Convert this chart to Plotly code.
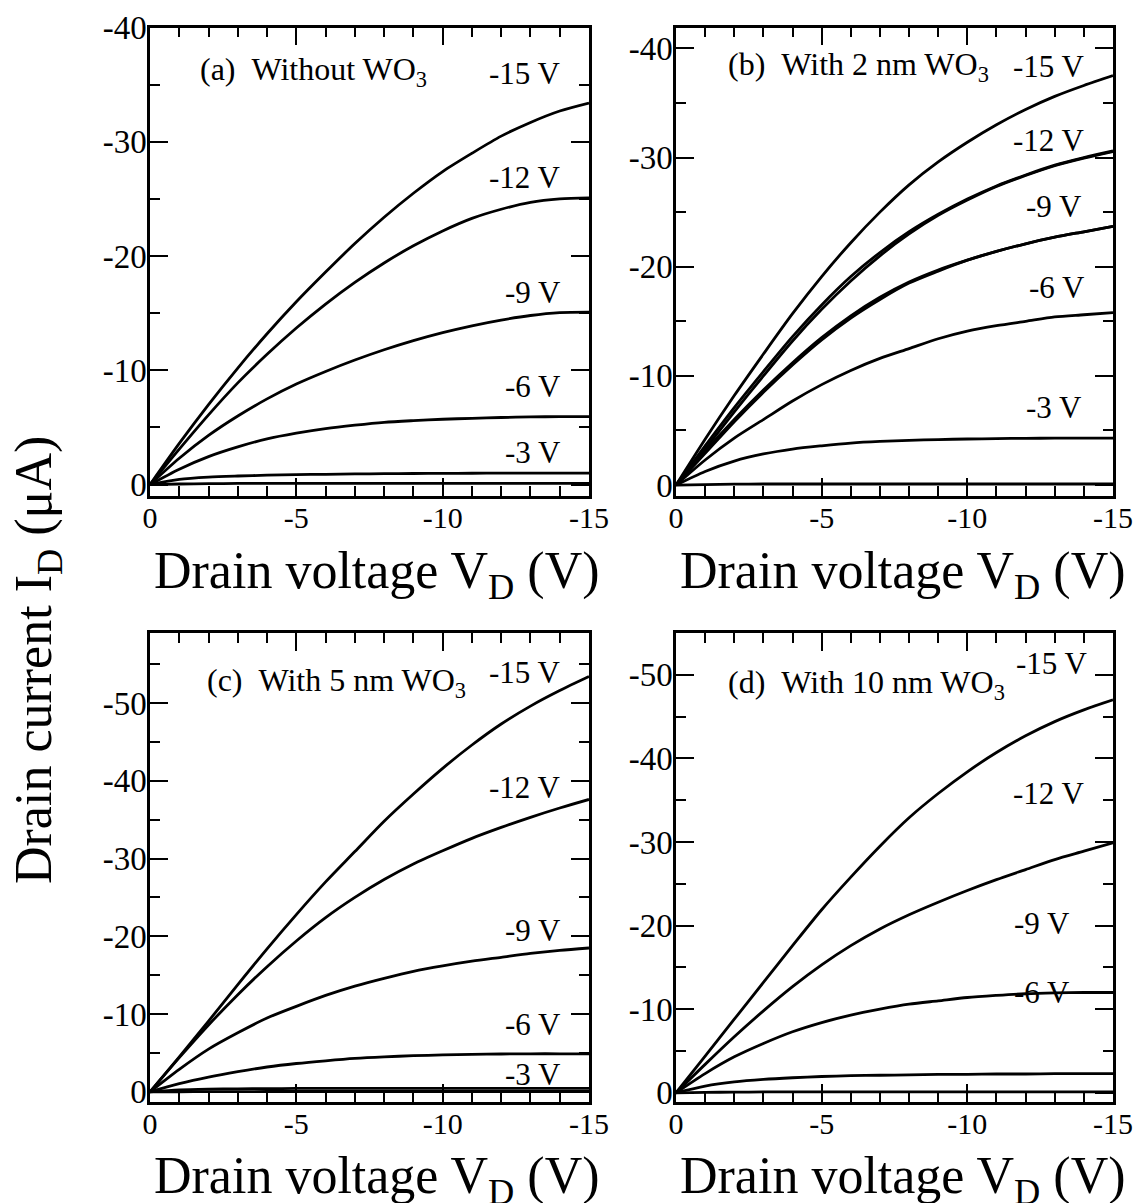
import plotly.graph_objects as go

# ---------------- data (drain current in uA) ----------------
vd = [0, -1, -2, -3, -4, -5, -6, -7, -8, -9, -10, -11, -12, -13, -14, -15]

# (a) without WO3
a_15 = [0, -3.6, -7.0, -10.2, -13.2, -16.0, -18.6, -21.1, -23.4, -25.5, -27.4, -29.0, -30.5, -31.7, -32.7, -33.4]
a_12 = [0, -3.1, -6.1, -8.9, -11.4, -13.7, -15.8, -17.7, -19.4, -20.9, -22.2, -23.3, -24.1, -24.7, -25.0, -25.1]
a_9 = [0, -2.3, -4.3, -6.0, -7.5, -8.8, -9.9, -10.9, -11.8, -12.6, -13.3, -13.9, -14.4, -14.8, -15.05, -15.1]
a_6 = [0, -1.35, -2.45, -3.3, -4.0, -4.5, -4.9, -5.2, -5.45, -5.6, -5.72, -5.8, -5.87, -5.92, -5.95, -5.95]
a_3 = [0, -0.45, -0.65, -0.75, -0.82, -0.87, -0.9, -0.93, -0.95, -0.97, -0.98, -0.99, -1.0, -1.0, -1.0, -1.0]
a_0 = [0, -0.05, -0.08, -0.1, -0.1, -0.1, -0.1, -0.1, -0.1, -0.1, -0.1, -0.1, -0.1, -0.1, -0.1, -0.1]

# (b) with 2 nm WO3 (the -12 V and -9 V curves show a small hysteresis)
b_15 = [0, -4.2, -8.2, -12.0, -15.7, -19.1, -22.2, -25.0, -27.5, -29.6, -31.4, -33.0, -34.4, -35.6, -36.6, -37.5]
b_12 = [0, -3.6, -7.1, -10.4, -13.6, -16.5, -19.1, -21.3, -23.2, -24.8, -26.2, -27.4, -28.4, -29.3, -30.0, -30.6]
b_12r = [0, -3.3, -6.7, -10.0, -13.2, -16.1, -18.7, -21.0, -23.0, -24.7, -26.1, -27.35, -28.35, -29.25, -29.95, -30.55]
b_9 = [0, -3.1, -6.0, -8.7, -11.2, -13.5, -15.5, -17.2, -18.6, -19.7, -20.6, -21.4, -22.1, -22.7, -23.2, -23.7]
b_9r = [0, -2.9, -5.8, -8.5, -11.0, -13.3, -15.3, -17.0, -18.5, -19.6, -20.6, -21.4, -22.1, -22.7, -23.2, -23.7]
b_6 = [0, -2.3, -4.3, -6.0, -7.7, -9.2, -10.5, -11.6, -12.5, -13.4, -14.1, -14.6, -15.0, -15.4, -15.6, -15.8]
b_3 = [0, -1.25, -2.2, -2.85, -3.3, -3.6, -3.85, -4.0, -4.1, -4.17, -4.22, -4.26, -4.28, -4.3, -4.3, -4.3]
b_0 = [0, -0.05, -0.08, -0.1, -0.1, -0.1, -0.1, -0.1, -0.1, -0.1, -0.1, -0.1, -0.1, -0.1, -0.1, -0.1]

# (c) with 5 nm WO3
c_15 = [0, -4.5, -9.1, -13.8, -18.4, -22.8, -27.0, -30.9, -34.8, -38.3, -41.6, -44.6, -47.3, -49.6, -51.6, -53.4]
c_12 = [0, -4.4, -8.6, -12.5, -16.1, -19.4, -22.4, -25.0, -27.3, -29.3, -31.0, -32.6, -34.0, -35.3, -36.5, -37.6]
c_9 = [0, -2.9, -5.5, -7.6, -9.5, -11.0, -12.4, -13.6, -14.6, -15.5, -16.2, -16.8, -17.3, -17.8, -18.2, -18.5]
c_6 = [0, -1.05, -1.9, -2.6, -3.2, -3.65, -4.0, -4.3, -4.5, -4.65, -4.75, -4.82, -4.87, -4.9, -4.9, -4.9]
c_3 = [0, -0.25, -0.35, -0.4, -0.42, -0.44, -0.45, -0.45, -0.45, -0.45, -0.45, -0.45, -0.45, -0.45, -0.45, -0.45]
c_0 = [0, -0.02, -0.03, -0.04, -0.05, -0.05, -0.05, -0.05, -0.05, -0.05, -0.05, -0.05, -0.05, -0.05, -0.05, -0.05]

# (d) with 10 nm WO3
d_15 = [0, -4.4, -8.8, -13.2, -17.6, -21.9, -25.8, -29.5, -32.9, -35.8, -38.4, -40.7, -42.7, -44.4, -45.8, -47.0]
d_12 = [0, -3.4, -6.7, -9.8, -12.7, -15.3, -17.6, -19.6, -21.3, -22.8, -24.2, -25.5, -26.7, -27.9, -28.9, -29.9]
d_9 = [0, -2.3, -4.3, -5.9, -7.3, -8.4, -9.3, -10.0, -10.6, -11.0, -11.4, -11.65, -11.85, -11.95, -12.0, -12.0]
d_6 = [0, -0.8, -1.3, -1.6, -1.8, -1.95, -2.05, -2.1, -2.15, -2.2, -2.2, -2.25, -2.25, -2.3, -2.3, -2.3]
d_3 = [0, -0.05, -0.08, -0.1, -0.1, -0.1, -0.1, -0.1, -0.1, -0.1, -0.1, -0.1, -0.1, -0.1, -0.1, -0.1]

# tick labels
x_tickvals = [0, -5, -10, -15]
x_ticktext = ["0", "-5", "-10", "-15"]
y_tickvals_ab = [0, -10, -20, -30, -40]
y_ticktext_ab = ["0", "-10", "-20", "-30", "-40"]
y_tickvals_cd = [0, -10, -20, -30, -40, -50]
y_ticktext_cd = ["0", "-10", "-20", "-30", "-40", "-50"]

panel_titles = ["(a)\u00a0\u00a0Without WO<sub>3</sub>",
                "(b)\u00a0\u00a0With 2 nm WO<sub>3</sub>",
                "(c)\u00a0\u00a0With 5 nm WO<sub>3</sub>",
                "(d)\u00a0\u00a0With 10 nm WO<sub>3</sub>"]
gate_labels = ["-15 V", "-12 V", "-9 V", "-6 V", "-3 V"]
x_title = "Drain voltage V<sub>D</sub> (V)"
y_title = "Drain current I<sub>D</sub> (\u03bcA)"

# ---------------- layout geometry ----------------
# the page body has an 8 px margin, so the figure is drawn 8 px in from the window corner
OFF = 8
W, H = 1141 - 2 * OFF, 1203 - OFF
FONT = "Liberation Serif, Times New Roman, serif"


def px_dom_x(x0, x1):
    return [(x0 - OFF) / W, (x1 - OFF) / W]


def px_dom_y(top, bottom):
    return [1 - (bottom - OFF) / H, 1 - (top - OFF) / H]


def px_x(x):
    return (x - OFF) / W


def px_y(y):
    return 1 - (y - OFF) / H


panels = [
    dict(xd=px_dom_x(150, 589), yd=px_dom_y(27.6, 496), yr=[1.0, -40], yt=(y_tickvals_ab, y_ticktext_ab),
         curves=[a_15, a_12, a_9, a_6, a_3, a_0]),
    dict(xd=px_dom_x(676, 1113), yd=px_dom_y(27.6, 496), yr=[1.0, -41.9], yt=(y_tickvals_ab, y_ticktext_ab),
         curves=[b_15, b_12, b_12r, b_9, b_9r, b_6, b_3, b_0]),
    dict(xd=px_dom_x(150, 589), yd=px_dom_y(633, 1102), yr=[1.3, -59], yt=(y_tickvals_cd, y_ticktext_cd),
         curves=[c_15, c_12, c_9, c_6, c_3, c_0]),
    dict(xd=px_dom_x(676, 1113), yd=px_dom_y(633, 1102), yr=[1.1, -55], yt=(y_tickvals_cd, y_ticktext_cd),
         curves=[d_15, d_12, d_9, d_6, d_3]),
]

# label positions (x, y in data units, right-aligned)
label_pos = [
    [(-14.1, -36.0), (-14.1, -26.9), (-14.1, -16.8), (-14.1, -8.6), (-14.1, -2.8)],
    [(-14.1, -38.3), (-14.1, -31.6), (-14.0, -25.5), (-14.1, -18.1), (-14.0, -7.1)],
    [(-14.1, -53.9), (-14.1, -39.1), (-14.1, -20.8), (-14.1, -8.7), (-14.1, -2.3)],
    [(-14.2, -51.4), (-14.1, -35.8), (-13.6, -20.2), (-13.6, -12.0)],
]
title_pos = [(-1.65, -36.2), (-1.7, -38.3), (-1.88, -52.7), (-1.7, -48.9)]

fig = go.Figure()
annotations = []
layout_axes = {}

for i, p in enumerate(panels):
    n = "" if i == 0 else str(i + 1)
    xa, ya = "x" + n, "y" + n
    for cur in p["curves"]:
        fig.add_trace(go.Scatter(x=vd, y=cur, mode="lines", xaxis=xa, yaxis=ya,
                                 line=dict(color="black", width=2.8, shape="spline", smoothing=0.8),
                                 showlegend=False, hoverinfo="skip"))
    common = dict(showline=True, linecolor="black", linewidth=2.5, mirror="ticks",
                  ticks="inside", ticklen=18, tickwidth=2, tickcolor="black",
                  showgrid=False, zeroline=False, automargin=False)
    layout_axes["xaxis" + n] = dict(common, domain=p["xd"], range=[0, -15], anchor=ya,
                                    tickmode="array", tickvals=x_tickvals, ticktext=x_ticktext,
                                    ticklabelstandoff=-7,
                                    tickfont=dict(family=FONT, size=30, color="black"),
                                    minor=dict(ticks="inside", ticklen=10, tickwidth=2, tickcolor="black",
                                               tickmode="linear", tick0=0, dtick=1))
    layout_axes["yaxis" + n] = dict(common, domain=p["yd"], range=p["yr"], anchor=xa,
                                    tickmode="array", tickvals=p["yt"][0], ticktext=p["yt"][1],
                                    ticklabelstandoff=-6,
                                    tickfont=dict(family=FONT, size=33, color="black"),
                                    minor=dict(ticks="inside", ticklen=10, tickwidth=2, tickcolor="black",
                                               tickmode="linear", tick0=0, dtick=5))
    for (lx, ly), txt in zip(label_pos[i], gate_labels):
        annotations.append(dict(x=lx, y=ly, xref=xa, yref=ya, text=txt, showarrow=False,
                                xanchor="right", yanchor="middle",
                                font=dict(family=FONT, size=31, color="black")))
    tx, ty = title_pos[i]
    annotations.append(dict(x=tx, y=ty, xref=xa, yref=ya, text=panel_titles[i], showarrow=False,
                            xanchor="left", yanchor="middle",
                            font=dict(family=FONT, size=32, color="black")))

# x-axis titles
for cx, cy in [(377, 574), (903, 574), (377, 1179), (903, 1179)]:
    annotations.append(dict(x=px_x(cx), y=px_y(cy), xref="paper", yref="paper", text=x_title,
                            showarrow=False, xanchor="center", yanchor="middle",
                            font=dict(family=FONT, size=52, color="black")))
# shared y-axis title
annotations.append(dict(x=px_x(37), y=px_y(660), xref="paper", yref="paper", text=y_title,
                        showarrow=False, textangle=-90, xanchor="center", yanchor="middle",
                        font=dict(family=FONT, size=52, color="black")))

fig.update_layout(template="none", width=W, height=H, margin=dict(l=0, r=0, t=0, b=0, pad=0),
                  font=dict(family=FONT, color="black"),
                  paper_bgcolor="white", plot_bgcolor="white", showlegend=False,
                  annotations=annotations, **layout_axes)

fig.write_html("out.html")
